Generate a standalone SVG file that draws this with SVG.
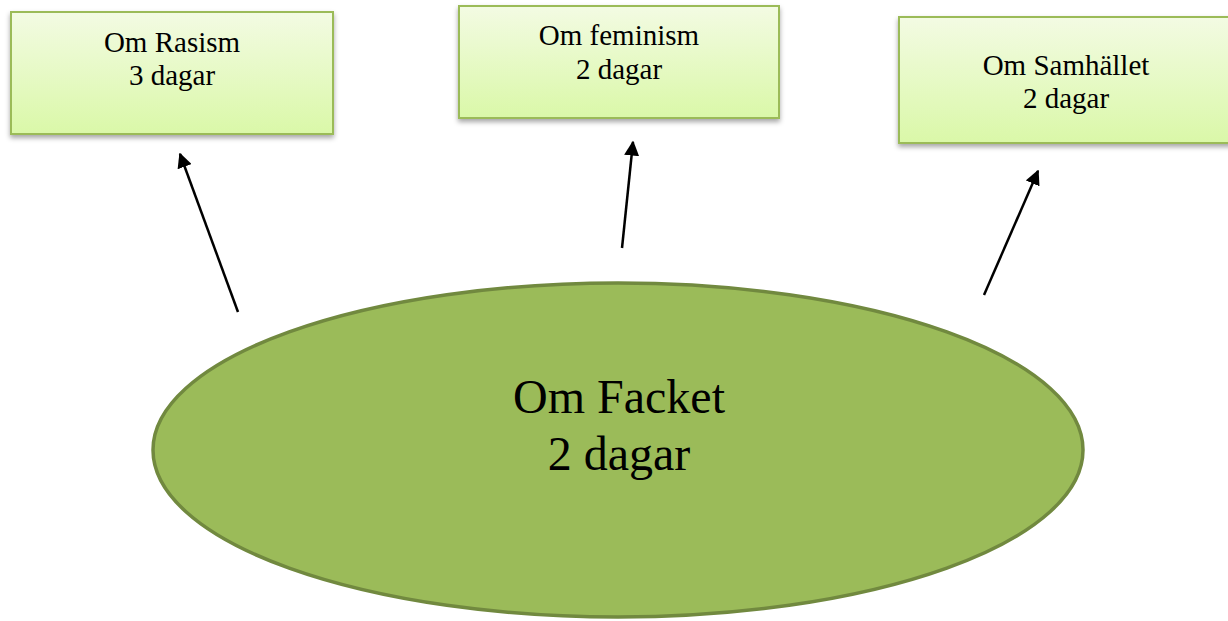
<svg xmlns="http://www.w3.org/2000/svg" width="1228" height="621" viewBox="0 0 1228 621">
  <defs>
    <linearGradient id="boxGrad" x1="0" y1="0" x2="0" y2="1">
      <stop offset="0" stop-color="#f3fbe3"/>
      <stop offset="1" stop-color="#daf8a8"/>
    </linearGradient>
    <filter id="shadow" x="-10%" y="-10%" width="120%" height="140%">
      <feDropShadow dx="0" dy="3" stdDeviation="2.5" flood-color="#000" flood-opacity="0.35"/>
    </filter>
    <marker id="arrow" viewBox="0 0 10 10" refX="9" refY="5" markerWidth="6" markerHeight="6" markerUnits="strokeWidth" orient="auto">
      <path d="M0,0 L10,5 L0,10 z" fill="#000"/>
    </marker>
  </defs>
  <style>
    .box { fill: url(#boxGrad); stroke: #9bbb59; stroke-width: 2; filter: url(#shadow); }
    .small { font-family: "Liberation Serif", "DejaVu Serif", serif; font-size: 29px; fill: #000; text-anchor: middle; }
    .big { font-family: "Liberation Serif", "DejaVu Serif", serif; font-size: 48px; fill: #000; text-anchor: middle; }
    .conn { stroke: #000; stroke-width: 2.5; fill: none; marker-end: url(#arrow); }
  </style>
  <rect width="1228" height="621" fill="#fff"/>

  <g id="node-rasism">
    <rect class="box" x="11" y="12" width="322" height="122"/>
    <text class="small" x="172" y="52">Om Rasism</text>
    <text class="small" x="172" y="85">3 dagar</text>
  </g>

  <g id="node-feminism">
    <rect class="box" x="459" y="6" width="320" height="112"/>
    <text class="small" x="619" y="45">Om feminism</text>
    <text class="small" x="619" y="79">2 dagar</text>
  </g>

  <g id="node-samhallet">
    <rect class="box" x="899" y="17" width="334" height="126"/>
    <text class="small" x="1066" y="75">Om Samhället</text>
    <text class="small" x="1066" y="108">2 dagar</text>
  </g>

  <g id="node-facket">
    <ellipse cx="618" cy="450" rx="465" ry="167" fill="#9bbb59" stroke="#71893f" stroke-width="3.5"/>
    <text class="big" x="619" y="413">Om Facket</text>
    <text class="big" x="619" y="470">2 dagar</text>
  </g>

  <g id="connectors">
    <line class="conn" x1="238" y1="312" x2="180" y2="154"/>
    <line class="conn" x1="622" y1="248" x2="633" y2="142"/>
    <line class="conn" x1="984" y1="295" x2="1038" y2="171"/>
  </g>
</svg>
